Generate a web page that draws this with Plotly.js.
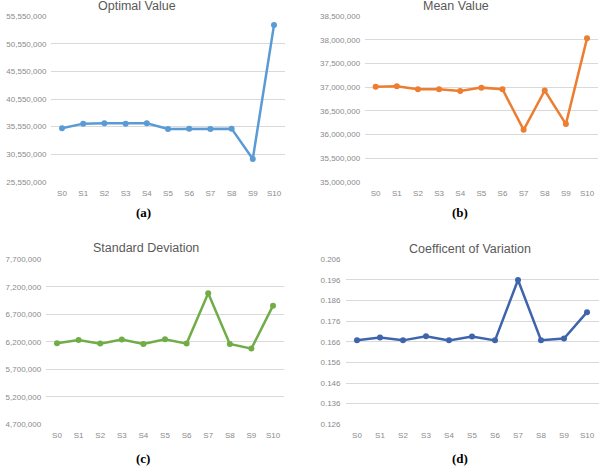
<!DOCTYPE html>
<html><head><meta charset="utf-8">
<script src="https://cdn.plot.ly/plotly-3.0.1.min.js"></script>
<style>html,body{margin:0;padding:0;background:#fff}#chart{width:600px;height:468px}</style>
</head><body><div id="chart"></div>
<script>
const categories = ['S0','S1','S2','S3','S4','S5','S6','S7','S8','S9','S10'];
const optimalValue = [35250000, 36090000, 36150000, 36090000, 36150000, 35130000, 35190000, 35130000, 35190000, 29710000, 53920000];
const meanValue = [37010000, 37020000, 36955000, 36955000, 36920000, 36990000, 36955000, 36100000, 36930000, 36220000, 38030000];
const stdDeviation = [6173000, 6233000, 6167000, 6240000, 6160000, 6245000, 6167000, 7082000, 6160000, 6076000, 6858000];
const coefVariation = [0.1667, 0.1681, 0.1667, 0.1687, 0.1667, 0.1686, 0.1667, 0.1960, 0.1668, 0.1676, 0.1804];
const panelTitles = ['Optimal Value', 'Mean Value', 'Standard Deviation', 'Coefficent of Variation'];
const captions = ['(a)', '(b)', '(c)', '(d)'];

const W = 600, H = 468;
const fx = p => p / W;
const fy = p => 1 - p / H;

const panels = [
  {y: optimalValue, color: '#5B9BD5', xd: [51.4, 284.6], yd: [16, 182], range: [25550000, 55550000], dtick: 5000000, fmt: ',d', title: [137, 6], cap: [143, 213]},
  {y: meanValue, color: '#ED7D31', xd: [365.1, 597.6], yd: [16, 182], range: [35000000, 38500000], dtick: 500000, fmt: ',d', title: [456, 6], cap: [460, 213]},
  {y: stdDeviation, color: '#70AD47', xd: [46.2, 283.8], yd: [259.3, 424.3], range: [4700000, 7700000], dtick: 500000, fmt: ',d', title: [146, 248], cap: [143, 458]},
  {y: coefVariation, color: '#3F64AE', xd: [345.5, 598.5], yd: [259.3, 424.3], range: [0.126, 0.206], dtick: 0.01, fmt: '.3f', title: [470, 249], cap: [460, 458]}
];

const data = [], layout = {
  width: W, height: H, margin: {l: 0, r: 0, t: 0, b: 0},
  paper_bgcolor: '#fff', plot_bgcolor: '#fff', showlegend: false,
  font: {family: 'Liberation Sans, Arial, sans-serif', color: '#7f7f7f'},
  annotations: []
};

panels.forEach((p, i) => {
  const n = i + 1;
  const xa = n === 1 ? 'x' : 'x' + n, ya = n === 1 ? 'y' : 'y' + n;
  data.push({
    x: categories, y: p.y, type: 'scatter', mode: 'lines+markers',
    xaxis: xa, yaxis: ya,
    line: {color: p.color, width: 2.5},
    marker: {color: p.color, size: 6}
  });
  const span = p.range[1] - p.range[0];
  layout['xaxis' + (n === 1 ? '' : n)] = {
    domain: [fx(p.xd[0]), fx(p.xd[1])], anchor: ya,
    type: 'category', range: [-0.5, 10.5],
    showgrid: false, zeroline: false, showline: false, ticks: '',
    tickfont: {size: 8, color: '#8a8a8a'}, ticklabelstandoff: 5, fixedrange: true
  };
  layout['yaxis' + (n === 1 ? '' : n)] = {
    domain: [fy(p.yd[1]), fy(p.yd[0])], anchor: xa,
    range: [p.range[0] - span * 0.0005, p.range[1] + span * 0.0005],
    tickmode: 'linear', tick0: p.range[0], dtick: p.dtick, tickformat: p.fmt,
    showgrid: true, gridcolor: '#d9d9d9', gridwidth: 1, zeroline: false, showline: false, ticks: '',
    tickfont: {size: 8, color: '#8a8a8a'}, ticklabelstandoff: 4, fixedrange: true
  };
  layout.annotations.push({
    text: panelTitles[i], xref: 'paper', yref: 'paper',
    x: fx(p.title[0]), y: fy(p.title[1]), xanchor: 'center', yanchor: 'middle',
    showarrow: false, font: {size: 12.5, color: '#595959', family: 'Liberation Sans, Arial, sans-serif'}
  });
  layout.annotations.push({
    text: '<b>' + captions[i] + '</b>', xref: 'paper', yref: 'paper',
    x: fx(p.cap[0]), y: fy(p.cap[1]), xanchor: 'center', yanchor: 'middle',
    showarrow: false, font: {size: 13, color: '#000', family: 'Liberation Serif, DejaVu Serif, serif'}
  });
});

Plotly.newPlot('chart', data, layout, {staticPlot: true});
</script></body></html>
